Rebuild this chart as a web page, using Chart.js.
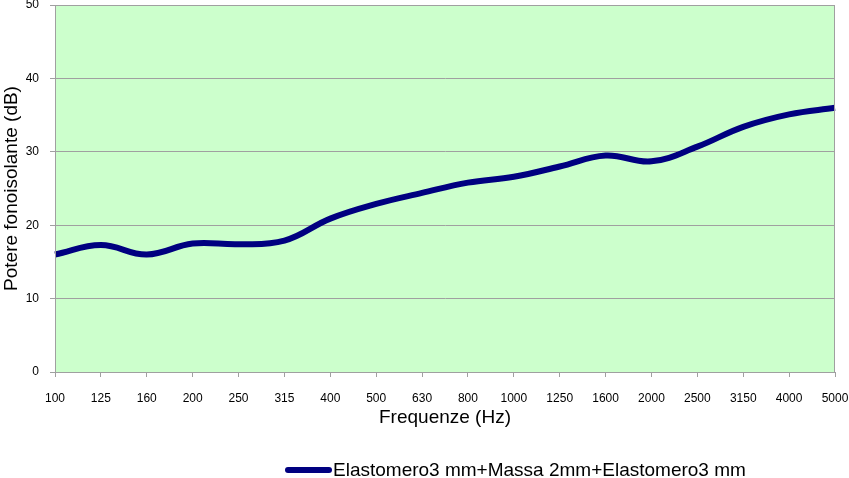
<!DOCTYPE html>
<html>
<head>
<meta charset="utf-8">
<script src="https://cdn.jsdelivr.net/npm/chart.js@4/dist/chart.umd.min.js"></script>
<style>
  html, body { margin: 0; padding: 0; background: #fff; }
  #wrap { width: 849px; height: 478px; }
</style>
</head>
<body>
<div id="wrap"><canvas id="chartLine"></canvas></div>
<script>
// frequencies (Hz) and measured values (dB)
const frequencies = ["100", "125", "160", "200", "250", "315", "400", "500", "630", "800",
  "1000", "1250", "1600", "2000", "2500", "3150", "4000", "5000"];
const potereValues = [16.0, 17.3, 16.0, 17.5, 17.4, 17.9, 20.9, 22.9, 24.4, 25.8,
  26.6, 28.0, 29.5, 28.7, 30.7, 33.4, 35.1, 36.0];
const seriesLabel = "Elastomero3 mm+Massa 2mm+Elastomero3 mm";
const yTicks = [0, 10, 20, 30, 40, 50];

const FONT = "'Liberation Sans', Arial, sans-serif";
const GRID = "#a0a0a0";

// green plot area + border
const plotArea = {
  id: "plotArea",
  beforeDraw(chart) {
    const { ctx, chartArea: a } = chart;
    ctx.save();
    ctx.fillStyle = "#ccffcc";
    ctx.fillRect(a.left, a.top, a.right - a.left, a.bottom - a.top);
    ctx.restore();
  },
  afterDatasetsDraw(chart) {
    const { ctx, chartArea: a } = chart;
    ctx.save();
    ctx.strokeStyle = GRID;
    ctx.lineWidth = 1;
    ctx.strokeRect(a.left + 0.5, a.top + 0.5, a.right - a.left - 1, a.bottom - a.top);
    ctx.restore();
  }
};

// legend drawn by hand so it can sit where Excel put it
const bottomLegend = {
  id: "bottomLegend",
  afterDraw(chart) {
    const ctx = chart.ctx;
    const ds = chart.data.datasets[0];
    ctx.save();
    ctx.strokeStyle = ds.borderColor;
    ctx.lineWidth = 6;
    ctx.lineCap = "round";
    ctx.beginPath();
    ctx.moveTo(288, 470);
    ctx.lineTo(329, 470);
    ctx.stroke();
    ctx.fillStyle = "#000";
    ctx.font = "19px " + FONT;
    ctx.textBaseline = "middle";
    ctx.fillText(ds.label, 333, 471);
    ctx.restore();
  }
};

new Chart(document.getElementById("chartLine"), {
  type: "line",
  data: {
    labels: frequencies,
    datasets: [{
      label: seriesLabel,
      data: potereValues,
      borderColor: "#000080",
      borderWidth: 6,
      pointRadius: 0,
      tension: 0.4,
      fill: false
    }]
  },
  options: {
    responsive: true,
    maintainAspectRatio: false,
    animation: false,
    layout: { padding: { top: 5, right: 14, bottom: 49, left: 0 } },
    plugins: {
      legend: { display: false },
      tooltip: { enabled: false }
    },
    scales: {
      x: {
        offset: false,
        grid: { drawOnChartArea: false, color: GRID, tickLength: 5, drawTicks: true },
        border: { color: GRID },
        ticks: { color: "#000", font: { family: FONT, size: 12 }, padding: 14, maxRotation: 0, autoSkip: false },
        title: { display: true, text: "Frequenze (Hz)", color: "#000", font: { family: FONT, size: 19 }, padding: { top: 0, bottom: 0 } },
        afterFit(scale) { scale.height = 57; scale.paddingLeft = 0; scale.paddingRight = 0; }
      },
      y: {
        min: 0,
        max: 50,
        afterBuildTicks(scale) { scale.ticks = yTicks.map(v => ({ value: v })); },
        grid: { color: GRID, tickLength: 5 },
        border: { color: GRID },
        ticks: { color: "#000", font: { family: FONT, size: 12 }, padding: 11 },
        title: { display: true, text: "Potere fonoisolante (dB)", color: "#000", font: { family: FONT, size: 19 }, padding: { top: 0, bottom: 0 } },
        afterFit(scale) { scale.width = 55; scale.paddingTop = 0; scale.paddingBottom = 0; }
      }
    }
  },
  plugins: [plotArea, bottomLegend]
});
</script>
</body>
</html>
